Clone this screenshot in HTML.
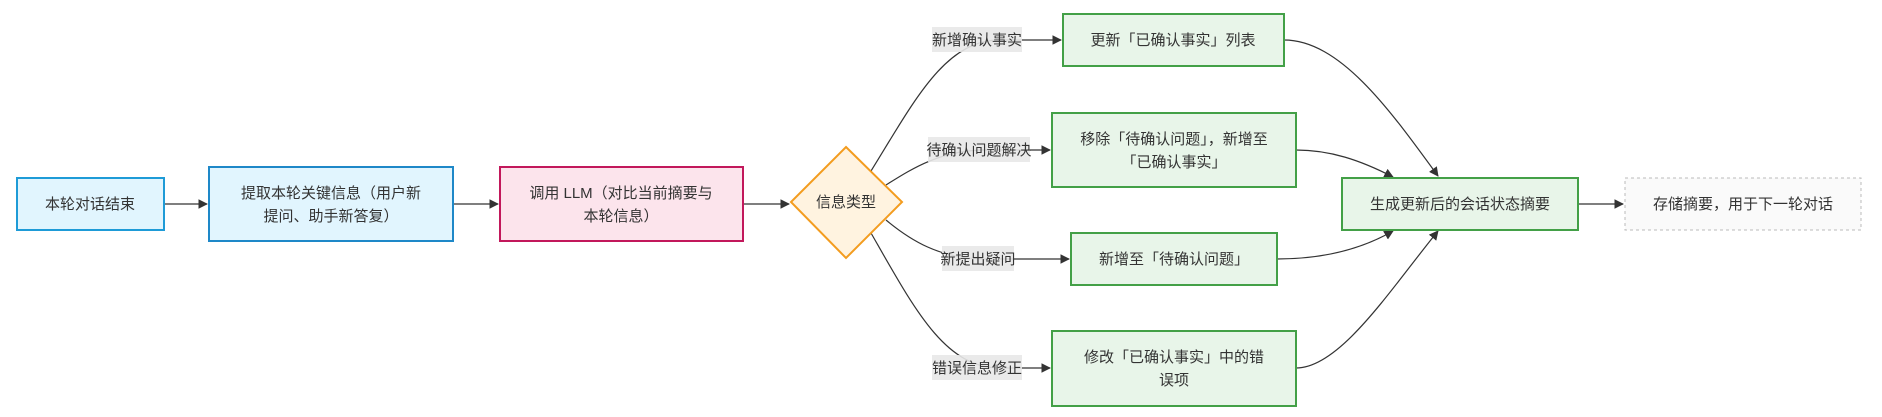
<!DOCTYPE html>
<html><head><meta charset="utf-8"><style>
html,body{margin:0;padding:0;background:#fff;}
svg{display:block;}
text{font-family:"Liberation Sans","Noto Sans CJK SC",sans-serif;font-size:15px;fill:#333;}
</style></head><body>
<svg width="1882" height="417" viewBox="0 0 1882 417" xmlns="http://www.w3.org/2000/svg">
<defs>
<marker id="a" viewBox="0 0 10 10" refX="9" refY="5" markerWidth="8" markerHeight="8" orient="auto"><path d="M0,0L10,5L0,10z" fill="#333"/></marker>
</defs>
<g fill="none" stroke="#333" stroke-width="1.2">
<path d="M164,204H207" marker-end="url(#a)"/>
<path d="M453,204H498" marker-end="url(#a)"/>
<path d="M743,204H789" marker-end="url(#a)"/>
<path d="M871,171C915,100 945,40 1000,40L1061,40" marker-end="url(#a)"/>
<path d="M886,185C910,170 940,150 985,150L1050,150" marker-end="url(#a)"/>
<path d="M886,220C910,240 940,259 985,259L1069,259" marker-end="url(#a)"/>
<path d="M871,233C915,310 945,368 1000,368L1050,368" marker-end="url(#a)"/>
<path d="M1284,40C1340,40 1390,110 1438,176" marker-end="url(#a)"/>
<path d="M1296,150C1330,150 1360,160 1393,177" marker-end="url(#a)"/>
<path d="M1277,259C1320,259 1360,250 1393,231" marker-end="url(#a)"/>
<path d="M1296,368C1340,368 1390,290 1438,231" marker-end="url(#a)"/>
<path d="M1578,204H1623" marker-end="url(#a)"/>
</g>
<g fill="#e8e8e8" opacity="0.9">
<rect x="932" y="27" width="90" height="25"/>
<rect x="928" y="137" width="102" height="25"/>
<rect x="942" y="246" width="72" height="25"/>
<rect x="932" y="355" width="90" height="25"/>
</g>
<text x="977" y="45" text-anchor="middle">新增确认事实</text>
<text x="979" y="155" text-anchor="middle">待确认问题解决</text>
<text x="978" y="264" text-anchor="middle">新提出疑问</text>
<text x="977" y="373" text-anchor="middle">错误信息修正</text>

<rect x="17" y="178" width="147" height="52" fill="#e1f5fe" stroke="#1e9bd7" stroke-width="2"/>
<text x="90" y="209" text-anchor="middle">本轮对话结束</text>
<rect x="209" y="167" width="244" height="74" fill="#e1f5fe" stroke="#1e88c8" stroke-width="2"/>
<text x="331" y="198" text-anchor="middle">提取本轮关键信息（用户新</text>
<text x="331" y="221" text-anchor="middle">提问、助手新答复）</text>
<rect x="500" y="167" width="243" height="74" fill="#fce4ec" stroke="#c2185b" stroke-width="2"/>
<text x="621" y="198" text-anchor="middle">调用 LLM（对比当前摘要与</text>
<text x="621" y="221" text-anchor="middle">本轮信息）</text>
<path d="M846,147L902,202L846,258L791,202Z" fill="#fff3e0" stroke="#f39c1f" stroke-width="2"/>
<text x="846" y="207" text-anchor="middle">信息类型</text>

<g fill="#e8f5e9" stroke="#43a047" stroke-width="2">
<rect x="1063" y="14" width="221" height="52"/>
<rect x="1052" y="113" width="244" height="74"/>
<rect x="1071" y="233" width="206" height="52"/>
<rect x="1052" y="331" width="244" height="75"/>
<rect x="1342" y="178" width="236" height="52"/>
</g>
<text x="1173" y="45" text-anchor="middle">更新「已确认事实」列表</text>
<text x="1174" y="144" text-anchor="middle">移除「待确认问题」，新增至</text>
<text x="1174" y="167" text-anchor="middle">「已确认事实」</text>
<text x="1174" y="264" text-anchor="middle">新增至「待确认问题」</text>
<text x="1174" y="362" text-anchor="middle">修改「已确认事实」中的错</text>
<text x="1174" y="385" text-anchor="middle">误项</text>
<text x="1460" y="209" text-anchor="middle">生成更新后的会话状态摘要</text>
<rect x="1625" y="178" width="236" height="52" fill="#fafafa" stroke="#bbb" stroke-width="1" stroke-dasharray="3,3"/>
<text x="1743" y="209" text-anchor="middle">存储摘要，用于下一轮对话</text>
</svg>
</body></html>
